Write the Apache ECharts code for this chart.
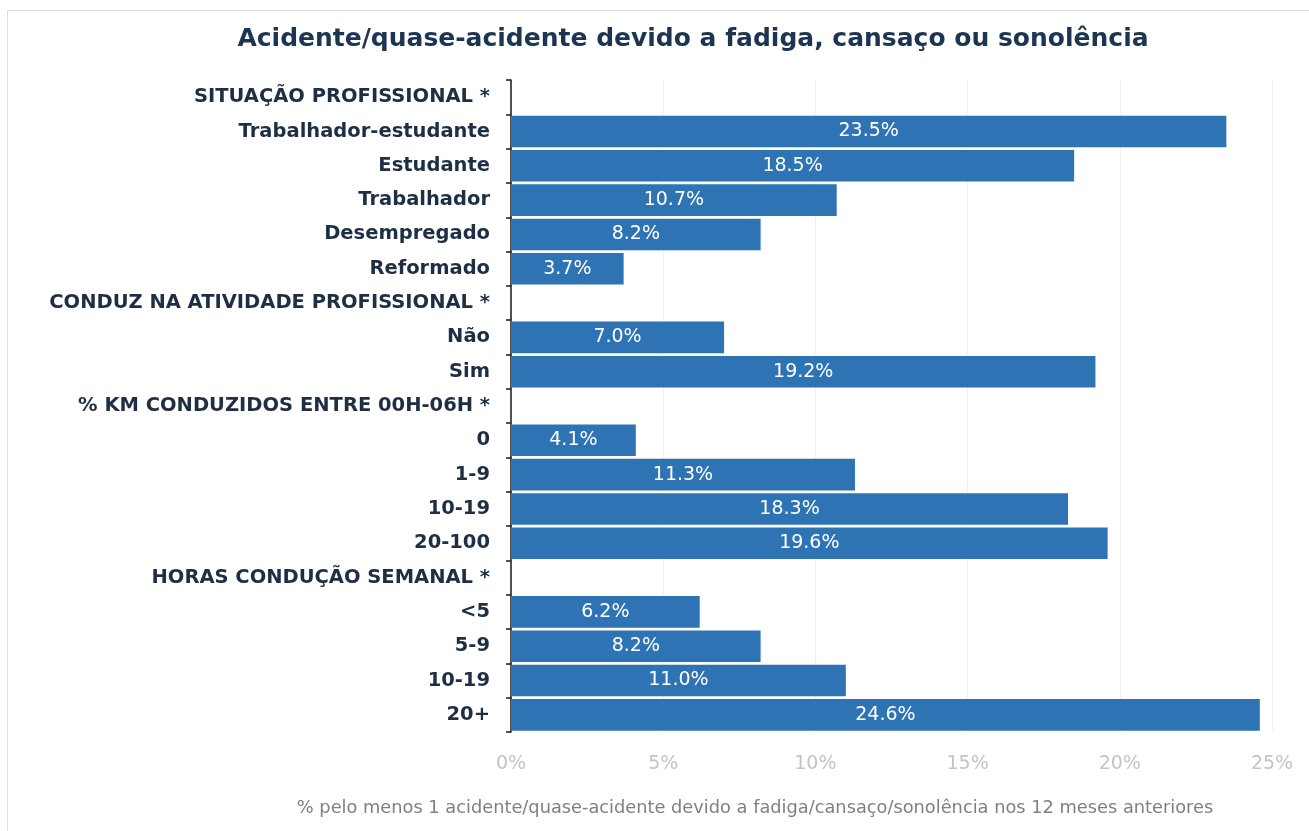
<!DOCTYPE html>
<html>
<head>
<meta charset="utf-8">
<script src="https://cdn.jsdelivr.net/npm/echarts@6/dist/echarts.min.js"></script>
<style>
  html, body { margin: 0; padding: 0; background: #ffffff; }
  #chart { width: 1309px; height: 831px; }
</style>
</head>
<body>
<div id="chart"></div>
<script>
// Row labels, top to bottom; group headings carry no value
const categories = [
  'SITUAÇÃO PROFISSIONAL *',
  'Trabalhador-estudante',
  'Estudante',
  'Trabalhador',
  'Desempregado',
  'Reformado',
  'CONDUZ NA ATIVIDADE PROFISSIONAL *',
  'Não',
  'Sim',
  '% KM CONDUZIDOS ENTRE 00H-06H *',
  '0',
  '1-9',
  '10-19',
  '20-100',
  'HORAS CONDUÇÃO SEMANAL *',
  '<5',
  '5-9',
  '10-19',
  '20+'
];

// Share (%) with at least one accident/near-accident from fatigue
const values = [
  null, 23.5, 18.5, 10.7, 8.2, 3.7,
  null, 7.0, 19.2,
  null, 4.1, 11.3, 18.3, 19.6,
  null, 6.2, 8.2, 11.0, 24.6
];

const xTicks = [0, 5, 10, 15, 20, 25];

const titleText = 'Acidente/quase-acidente devido a fadiga, cansaço ou sonolência';
const noteText = '% pelo menos 1 acidente/quase-acidente devido a fadiga/cansaço/sonolência nos 12 meses anteriores';

const FONT = '"DejaVu Sans", sans-serif';

const chart = echarts.init(document.getElementById('chart'), null, { renderer: 'canvas' });

chart.setOption({
  backgroundColor: '#ffffff',
  animation: false,
  title: {
    text: titleText,
    left: 688,
    textAlign: 'center',
    top: 22,
    textStyle: {
      fontFamily: FONT,
      fontWeight: 'bold',
      fontSize: 25,
      color: '#1b3552'
    }
  },
  graphic: [
    {
      type: 'rect',
      shape: { x: 7.5, y: 10.5, width: 1400, height: 1000 },
      style: { fill: 'none', stroke: '#dcdcdc', lineWidth: 1 },
      silent: true
    },
    {
      type: 'text',
      x: 755,
      y: 808,
      style: {
        text: noteText,
        align: 'center',
        verticalAlign: 'middle',
        fontFamily: FONT,
        fontSize: 17.8,
        fill: '#808080'
      }
    }
  ],
  grid: {
    left: 511,
    right: 37,
    top: 80,
    bottom: 99,
    containLabel: false
  },
  xAxis: {
    type: 'value',
    min: xTicks[0],
    max: xTicks[xTicks.length - 1],
    interval: 5,
    axisLine: { show: false },
    axisTick: { show: false },
    splitLine: { show: true, lineStyle: { color: '#f0f0f0', width: 1 } },
    axisLabel: {
      formatter: v => v + '%',
      fontFamily: FONT,
      fontSize: 19,
      color: '#c4c4c4',
      margin: 23
    }
  },
  yAxis: {
    type: 'category',
    inverse: true,
    data: categories,
    axisLine: { show: true, lineStyle: { color: '#1a1a1a', width: 1.5 } },
    axisTick: { show: true, length: 5, lineStyle: { color: '#1a1a1a', width: 1.5 } },
    axisLabel: {
      fontFamily: FONT,
      fontWeight: 'bold',
      fontSize: 19.5,
      color: '#1e2f45',
      margin: 21
    }
  },
  series: [
    {
      type: 'bar',
      data: values,
      barCategoryGap: '8%',
      itemStyle: { color: '#2e74b5' },
      label: {
        show: true,
        position: 'inside',
        formatter: p => p.value.toFixed(1) + '%',
        fontFamily: FONT,
        fontSize: 19,
        color: '#ffffff'
      }
    }
  ]
});
</script>
</body>
</html>
